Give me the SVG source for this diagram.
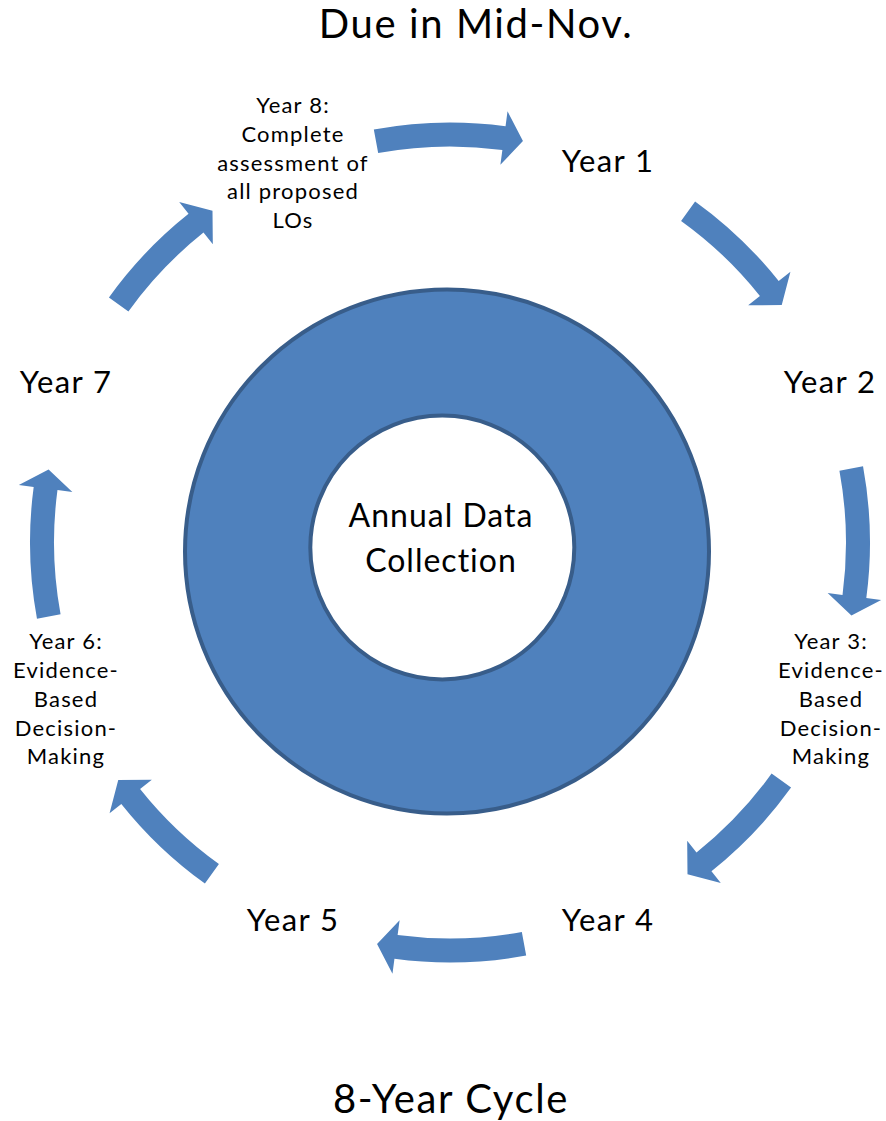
<svg xmlns="http://www.w3.org/2000/svg" xmlns:xlink="http://www.w3.org/1999/xlink" width="886" height="1121" viewBox="0 0 886 1121">
<style>
text{font-family:Lato,"Open Sans","Liberation Sans",sans-serif;fill:#000;text-anchor:middle}
.t{font-size:40px;letter-spacing:1.6px}
.y{font-size:31px;letter-spacing:1.4px}
.s{font-size:22px;letter-spacing:1.2px}
.c{font-size:32px;letter-spacing:1px}
.arr{fill:#4F81BD}
</style>
<defs>
<path id="ac" d="M373.82,129.47 A420,420 0 0 1 505.55,126.19 L507.53,111.32 L522.95,141.07 L500.39,164.85 L502.38,149.98 A396,396 0 0 0 378.17,153.07 Z"/>
<path id="ad" d="M382.13,128.02 A420,420 0 0 1 497.54,125.20 L499.24,110.30 L516.64,139.98 L493.13,163.95 L494.83,149.05 A396,396 0 0 0 386.01,151.70 Z"/>
</defs>
<rect width="886" height="1121" fill="#fff"/>
<g id="connectors" class="arr">
<use xlink:href="#ac"/>
<use xlink:href="#ad" transform="rotate(45 450 542.5)"/>
<use xlink:href="#ac" transform="rotate(90 450 542.5)"/>
<use xlink:href="#ad" transform="rotate(135 450 542.5)"/>
<use xlink:href="#ac" transform="rotate(180 450 542.5)"/>
<use xlink:href="#ad" transform="rotate(225 450 542.5)"/>
<use xlink:href="#ac" transform="rotate(270 450 542.5)"/>
<use xlink:href="#ad" transform="rotate(315 450 542.5)"/>
</g>
<g id="center">
<path d="M185,551.5 A262,262 0 1 0 709,551.5 A262,262 0 1 0 185,551.5 Z M310.3,547.5 A132,132 0 1 0 574.3,547.5 A132,132 0 1 0 310.3,547.5 Z" fill="#4F81BD" fill-rule="evenodd" stroke="#385D8A" stroke-width="4"/>
<text class="c" x="441" y="527">Annual Data</text>
<text class="c" x="441" y="572">Collection</text>
</g>
<g id="title"><text class="t" x="476" y="38">Due in Mid-Nov.</text></g>
<g id="footer"><text class="t" x="451" y="1113">8-Year Cycle</text></g>
<g id="year1"><text class="y" x="608" y="172">Year 1</text></g>
<g id="year2"><text class="y" x="830" y="393">Year 2</text></g>
<g id="year3">
<text class="s" x="831" y="649">Year 3:</text>
<text class="s" x="831" y="678">Evidence-</text>
<text class="s" x="831" y="707">Based</text>
<text class="s" x="831" y="736">Decision-</text>
<text class="s" x="831" y="764">Making</text>
</g>
<g id="year4"><text class="y" x="608" y="931">Year 4</text></g>
<g id="year5"><text class="y" x="293" y="931">Year 5</text></g>
<g id="year6">
<text class="s" x="66" y="649">Year 6:</text>
<text class="s" x="66" y="678">Evidence-</text>
<text class="s" x="66" y="707">Based</text>
<text class="s" x="66" y="736">Decision-</text>
<text class="s" x="66" y="764">Making</text>
</g>
<g id="year7"><text class="y" x="66" y="393">Year 7</text></g>
<g id="year8">
<text class="s" x="293" y="113">Year 8:</text>
<text class="s" x="293" y="142">Complete</text>
<text class="s" x="293" y="171">assessment of</text>
<text class="s" x="293" y="199">all proposed</text>
<text class="s" x="293" y="228">LOs</text>
</g>
</svg>
